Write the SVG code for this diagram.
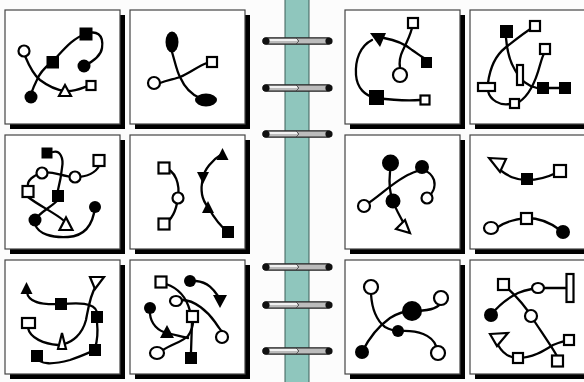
<svg xmlns="http://www.w3.org/2000/svg" width="584" height="382" viewBox="0 0 584 382">
<style>
.bg{fill:#fcfcfc}
.sh{fill:#000}
.pn{fill:#fff;stroke:#444;stroke-width:1.2}
.c{fill:none;stroke:#000;stroke-width:2.3;stroke-linecap:round}
.f{fill:#000}
.o{fill:#fff;stroke:#000;stroke-width:2.2}
.spine{fill:#8fc6bd;stroke:#3d5f59;stroke-width:1}
.bar{fill:#bcbcbc;stroke:#222;stroke-width:1.2}
.hl{stroke:#fff;stroke-width:1.6;fill:none}
</style>
<defs>
<g id="ring">
<rect class="bar" x="263" y="-3.2" width="68" height="6.4" rx="3.2"/>
<path class="hl" d="M268,-1 L297,-1"/>
<path d="M296,-3 L299,0 L296,3" fill="none" stroke="#444" stroke-width="0.8"/>
<circle cx="266" cy="0" r="3.6" fill="#111"/>
<circle cx="329" cy="0" r="3.6" fill="#111"/>
</g>
<g id="panel">
<rect class="sh" x="5" y="5" width="115" height="114"/>
<rect class="pn" x="0" y="0" width="115" height="114"/>
</g>
</defs>
<rect class="bg" x="0" y="0" width="584" height="382"/>
<g id="frames">
<use href="#panel" x="5" y="10"/>
<use href="#panel" x="130" y="10"/>
<use href="#panel" x="345" y="10"/>
<use href="#panel" x="470" y="10"/>
<use href="#panel" x="5" y="135"/>
<use href="#panel" x="130" y="135"/>
<use href="#panel" x="345" y="135"/>
<use href="#panel" x="470" y="135"/>
<use href="#panel" x="5" y="260"/>
<use href="#panel" x="130" y="260"/>
<use href="#panel" x="345" y="260"/>
<use href="#panel" x="470" y="260"/>
</g>
<g id="binding">
<rect class="spine" x="285" y="-2" width="24" height="386"/>
<use href="#ring" y="41"/>
<use href="#ring" y="88"/>
<use href="#ring" y="134"/>
<use href="#ring" y="267"/>
<use href="#ring" y="305"/>
<use href="#ring" y="351"/>
</g>
<g id="connectors">
<path class="c" d="M25,56 C30,68 35,76 40,80 C48,86 56,90 65,91 C75,92 82,88 88,86"/>
<path class="c" d="M52,62 C44,68 38,76 36,82 C33,88 31,92 31,97"/>
<path class="c" d="M52,62 C62,52 72,38 86,34 C96,30 104,34 102,48 C101,56 92,62 84,66"/>
<path class="c" d="M172,52 C175,62 177,72 180,77 C184,86 190,94 200,98"/>
<path class="c" d="M160,83 C168,80 175,79 180,77 C190,73 198,66 207,63"/>
<path class="c" d="M53,152 C60,150 64,158 62,168 C61,178 59,186 58,190"/>
<path class="c" d="M99,166 C96,172 88,177 75,177 C62,177 52,170 42,173 C33,175 27,181 28,186"/>
<path class="c" d="M58,200 C50,208 40,212 35,220"/>
<path class="c" d="M28,197 C38,205 55,213 63,220"/>
<path class="c" d="M35,224 C38,234 52,238 68,237 C84,236 93,225 95,207"/>
<path class="c" d="M164,168 C176,170 180,185 178,198 C176,212 172,220 164,224"/>
<path class="c" d="M222,154 C212,160 204,170 203,178 C200,190 202,200 208,207 C213,216 220,226 228,232"/>
<path class="c" d="M27,292 C28,302 40,305 61,304 C78,303 94,302 97,312"/>
<path class="c" d="M97,322 C98,332 97,342 95,348"/>
<path class="c" d="M96,286 C90,295 88,310 86,320 C82,335 72,342 64,344"/>
<path class="c" d="M28,328 C30,338 44,344 58,345"/>
<path class="c" d="M37,356 C38,366 55,364 70,360 C82,356 90,352 95,350"/>
<path class="c" d="M166,284 C178,288 186,296 190,311"/>
<path class="c" d="M182,300 C195,300 208,312 215,322 C219,328 221,331 222,331"/>
<path class="c" d="M196,281 C208,282 214,290 218,296"/>
<path class="c" d="M150,314 C151,324 158,331 167,333 C176,335 183,337 188,338"/>
<path class="c" d="M163,350 C172,344 182,342 188,336 C192,330 193,325 193,322"/>
<path class="c" d="M192,322 L191,352"/>
<path class="c" d="M412,28 C410,36 406,44 403,50 C400,56 399,62 400,68"/>
<path class="c" d="M384,38 C395,40 405,44 412,50 C418,54 422,57 424,58"/>
<path class="c" d="M372,40 C360,46 355,60 356,75 C357,88 365,96 376,98 C392,100 408,101 420,100"/>
<path class="c" d="M535,26 C525,32 515,40 505,48 C495,56 490,68 488,83"/>
<path class="c" d="M488,91 C490,100 500,106 510,104"/>
<path class="c" d="M519,102 C530,95 536,80 540,65 C542,58 543,55 544,54"/>
<path class="c" d="M506,38 C507,50 510,62 515,70 C520,80 528,86 537,88 L565,88"/>
<path class="c" d="M364,206 C378,198 395,180 410,174 C422,168 430,170 434,180 C436,188 432,194 428,197"/>
<path class="c" d="M390,172 C389,182 390,194 393,201 C396,210 400,216 403,222"/>
<path class="c" d="M500,170 C508,176 515,180 527,180 C540,180 550,176 556,173"/>
<path class="c" d="M498,227 C505,222 515,219 527,218 C540,218 552,224 560,230"/>
<path class="c" d="M371,294 C372,310 376,320 385,327 C392,331 398,331 400,331 C418,330 432,335 436,346"/>
<path class="c" d="M362,352 C368,340 376,328 390,318 C398,313 405,311 412,311 C425,311 436,310 440,304"/>
<path class="c" d="M503,284 C512,292 524,304 531,316 C540,330 550,344 557,356"/>
<path class="c" d="M491,315 C498,306 508,298 518,293 C528,289 534,288 544,288 L566,288"/>
<path class="c" d="M498,345 C502,352 508,358 518,358 C533,358 545,350 553,345 C560,342 565,341 569,340"/>
</g>
<g id="p1">
<circle class="o" cx="24" cy="51" r="5.5"/>
<rect class="f" x="46.5" y="56" width="12.5" height="12.5"/>
<rect class="f" x="79.5" y="27.5" width="13" height="13"/>
<circle class="f" cx="84" cy="66" r="6.5"/>
<circle class="f" cx="31" cy="97" r="6.5"/>
<polygon class="o" points="65,85 59,96 71,96"/>
<rect class="o" x="86.5" y="81" width="9" height="9"/>
</g>
<g id="p2">
<ellipse class="f" cx="172" cy="42" rx="6.5" ry="10.5"/>
<rect class="o" x="207" y="57" width="10" height="10"/>
<circle class="o" cx="154" cy="83" r="6"/>
<ellipse class="f" cx="206" cy="100" rx="11" ry="6.5"/>
</g>
<g id="p5">
<rect class="f" x="41.5" y="147.5" width="11" height="11"/>
<rect class="o" x="93.5" y="155" width="11" height="11"/>
<circle class="o" cx="42" cy="173" r="5.5"/>
<circle class="o" cx="75" cy="177" r="5.5"/>
<rect class="o" x="22.5" y="186" width="11" height="11"/>
<rect class="f" x="52" y="190" width="12" height="12"/>
<circle class="f" cx="95" cy="207" r="6"/>
<circle class="f" cx="35" cy="220" r="6.5"/>
<polygon class="o" points="66,217.5 59.5,230 72.5,230"/>
</g>
<g id="p6">
<rect class="o" x="158.5" y="162.5" width="11" height="11"/>
<circle class="o" cx="178" cy="198" r="5.5"/>
<rect class="o" x="158.5" y="218.5" width="11" height="11"/>
<polygon class="f" points="222.5,148 216.5,160 228.5,160"/>
<polygon class="f" points="197,172 209,172 203,184"/>
<polygon class="f" points="208,201 202,213 214,213"/>
<rect class="f" x="222" y="226" width="12" height="12"/>
</g>
<g id="p9">
<polygon class="f" points="26.5,282 20.5,294 32.5,294"/>
<rect class="f" x="55" y="298" width="12" height="12"/>
<polygon class="o" points="90,277 104,277 95,289"/>
<rect class="o" x="22" y="318" width="13" height="10"/>
<polygon class="o" points="62,333 58,349 66,349"/>
<rect class="f" x="91" y="311" width="12" height="12"/>
<rect class="f" x="89" y="344" width="12" height="12"/>
<rect class="f" x="31" y="350" width="12" height="12"/>
</g>
<g id="p10">
<rect class="o" x="155.5" y="276.5" width="11" height="11"/>
<circle class="f" cx="190" cy="281" r="6"/>
<polygon class="f" points="213,295 227,295 220,308"/>
<ellipse class="o" cx="176" cy="301" rx="6" ry="5"/>
<circle class="f" cx="150" cy="308" r="6"/>
<rect class="o" x="187" y="311" width="11" height="11"/>
<polygon class="f" points="167,325 160,338 174,338"/>
<circle class="o" cx="222" cy="337" r="6"/>
<ellipse class="o" cx="157" cy="353" rx="7" ry="6"/>
<rect class="f" x="185" y="352" width="12" height="12"/>
</g>
<g id="p3">
<rect class="o" x="408" y="18" width="10" height="10"/>
<polygon class="f" points="370,33 386,33 380,47"/>
<rect class="f" x="421" y="57" width="11" height="11"/>
<circle class="o" cx="400" cy="75" r="7"/>
<rect class="f" x="369" y="90" width="15" height="15"/>
<rect class="o" x="420.5" y="95.5" width="9" height="9"/>
</g>
<g id="p4">
<rect class="f" x="500" y="25" width="13" height="13"/>
<rect class="o" x="530" y="21" width="10" height="10"/>
<rect class="o" x="540" y="44" width="10" height="10"/>
<rect class="o" x="517" y="65" width="6" height="20"/>
<rect class="o" x="478" y="83" width="17" height="8"/>
<rect class="f" x="537" y="82" width="12" height="12"/>
<rect class="f" x="559" y="82" width="12" height="12"/>
<rect class="o" x="510" y="99" width="9" height="9"/>
</g>
<g id="p7">
<circle class="f" cx="390.5" cy="163" r="8.5"/>
<circle class="f" cx="422" cy="167" r="7"/>
<circle class="o" cx="427" cy="198" r="5.5"/>
<circle class="o" cx="364" cy="206" r="6"/>
<circle class="f" cx="393" cy="201" r="7.5"/>
<polygon class="o" points="405,220 396,229 410,233"/>
</g>
<g id="p8">
<polygon class="o" points="489,158 506,159 500,172"/>
<rect class="f" x="521" y="173" width="12" height="12"/>
<rect class="o" x="554" y="165" width="12" height="12"/>
<ellipse class="o" cx="491" cy="228" rx="7" ry="6"/>
<rect class="o" x="521" y="213" width="11" height="11"/>
<circle class="f" cx="563" cy="232" r="7"/>
</g>
<g id="p11">
<circle class="o" cx="371" cy="287" r="7"/>
<circle class="f" cx="412" cy="311" r="10"/>
<circle class="o" cx="441" cy="298" r="7"/>
<circle class="f" cx="398" cy="331" r="6"/>
<circle class="f" cx="362" cy="352" r="7"/>
<circle class="o" cx="438" cy="353" r="7"/>
</g>
<g id="p12">
<rect class="o" x="498" y="279" width="11" height="11"/>
<ellipse class="o" cx="538" cy="288" rx="6" ry="5"/>
<rect class="o" x="566.5" y="274" width="7" height="28"/>
<circle class="f" cx="491" cy="315" r="7"/>
<circle class="o" cx="531" cy="316" r="6"/>
<polygon class="o" points="490,334 508,333 497,346"/>
<rect class="o" x="564" y="335" width="10" height="10"/>
<rect class="o" x="513" y="353" width="10" height="10"/>
<rect class="o" x="552" y="355.5" width="11" height="11"/>
</g>
</svg>
